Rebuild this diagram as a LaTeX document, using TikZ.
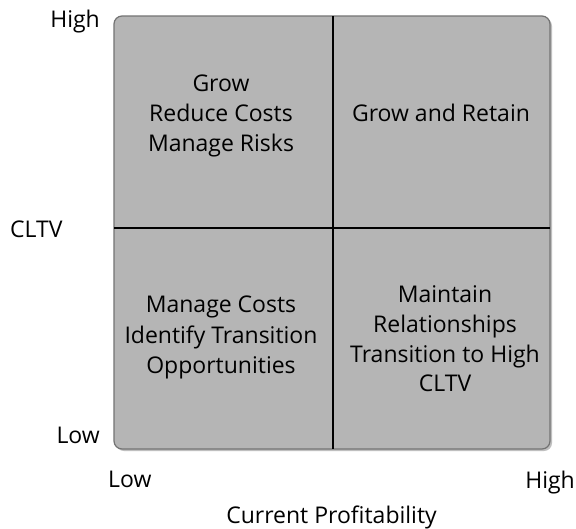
\documentclass[tikz,border=0pt]{standalone}
\usepackage{fontspec}
\setmainfont{Open Sans}
\begin{document}
\begin{tikzpicture}[x=1pt,y=-1pt,
  lbl/.style={font=\fontsize{23}{30}\selectfont, text=black, inner sep=0pt},
  divider/.style={line width=2.4pt, black}]
\useasboundingbox (0,0) rectangle (576,528);
\fill[white] (0,0) rectangle (576,528);
% shadow
\fill[black!25, rounded corners=8pt] (116,18) rectangle (552,451);
\draw[fill={rgb,255:red,181;green,181;blue,181}, draw=black!55, line width=1.2pt, rounded corners=8pt] (114,16) rectangle (550,449);
\coordinate (vt) at (333,16);
\coordinate (vb) at (333,449);
\coordinate (hl) at (114,228);
\coordinate (hr) at (550,228);
\draw[divider] (vt) -- (vb);
\draw[divider] (hl) -- (hr);
% quadrant texts
\node[lbl, anchor=base] (tl1) at (221,91) {Grow};
\node[lbl, anchor=base] (tl2) at (221,121) {Reduce Costs};
\node[lbl, anchor=base] (tl3) at (221,151) {Manage Risks};
\node[lbl, anchor=base] (tr1) at (441,121) {Grow and Retain};
\node[lbl, anchor=base] (bl1) at (221,312) {Manage Costs};
\node[lbl, anchor=base] (bl2) at (221,343) {Identify Transition};
\node[lbl, anchor=base] (bl3) at (221,373) {Opportunities};
\node[lbl, anchor=base] (br1) at (445,302) {Maintain};
\node[lbl, anchor=base] (br2) at (445,332) {Relationships};
\node[lbl, anchor=base] (br3) at (445,362) {Transition to High};
\node[lbl, anchor=base] (br4) at (445,391) {CLTV};
% axis labels
\node[lbl, anchor=base east] (yhigh) at (100,27) {High};
\node[lbl, anchor=base west] (ycltv) at (10,237) {CLTV};
\node[lbl, anchor=base east] (ylow) at (100,443) {Low};
\node[lbl, anchor=base west] (xlow) at (108,487) {Low};
\node[lbl, anchor=base east] (xhigh) at (575,488) {High};
\node[lbl, anchor=base] (xlabel) at (331.5,523) {Current Profitability};
\end{tikzpicture}
\end{document}
